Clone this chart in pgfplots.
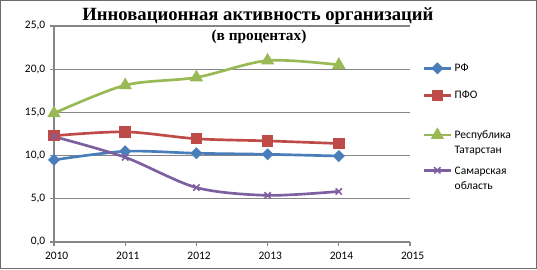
\documentclass[border=0pt]{standalone}
\usepackage{fontspec}
\setmainfont{Carlito}
\newfontfamily\titlefont{Liberation Serif}
\usepackage{pgfplots}
\pgfplotsset{compat=1.18}
\definecolor{cblue}{HTML}{4A7EBB}
\definecolor{cred}{HTML}{BE4B48}
\definecolor{cgreen}{HTML}{98B954}
\definecolor{cpurple}{HTML}{7D60A0}
\definecolor{gridc}{HTML}{868686}
\begin{document}
\begin{tikzpicture}
\useasboundingbox (0pt,0pt) rectangle (402.75pt,201.75pt);
\draw[gridc!80!black, line width=0.75pt] (0.375pt,0.375pt) rectangle (402.375pt,201.375pt);
\node[anchor=base, font=\titlefont\bfseries\fontsize{14}{16}\selectfont] at (193.5pt,186.75pt) {Инновационная активность организаций};
\node[anchor=base, font=\titlefont\bfseries\fontsize{11.5}{13}\selectfont] at (194.25pt,171.75pt) {(в процентах)};
\begin{axis}[
  at={(40.5pt,20.25pt)}, anchor=south west,
  scale only axis, width=267pt, height=162pt,
  xmin=2010, xmax=2015, ymin=0, ymax=25,
  xtick={2010,2011,2012,2013,2014,2015},
  ytick={0,5,10,15,20,25},
  axis x line=bottom, axis y line=left,
  axis line style={-, gridc, line width=0.8pt},
  tick style={gridc, line width=0.8pt},
  tick align=outside, major tick length=3pt,
  ymajorgrids, grid style={gridc, line width=0.8pt},
  ticklabel style={font=\fontsize{8.6}{10}\selectfont, text=black},
  /pgf/number format/assume math mode=true,
  x tick label style={/pgf/number format/set thousands separator={}, yshift=-1pt, xshift=2pt},
  y tick label style={/pgf/number format/.cd, fixed, fixed zerofill, precision=1, use comma},
  legend style={at={(1.035,0.84)}, anchor=north west, draw=none, fill=none,
    font=\fontsize{8.6}{11.25}\selectfont, row sep=9pt, inner sep=0pt},
  legend cell align=left,
  legend image code/.code={\draw[mark repeat=2,mark phase=2,#1] plot coordinates {(0pt,0pt)(10pt,0pt)(20pt,0pt)};},
  every axis plot/.append style={line width=2pt, smooth, tension=0.5},
]
\addplot[cblue, mark=square*, mark options={rotate=45, solid}, mark size=2.2pt] coordinates {
 (2010,9.5) (2011,10.5) (2012,10.27) (2013,10.15) (2014,9.95)};
\addlegendentry{РФ}
\addplot[cred, mark=square*, mark size=3.3pt] coordinates {
 (2010,12.3) (2011,12.75) (2012,11.95) (2013,11.7) (2014,11.4)};
\addlegendentry{ПФО}
\addplot[cgreen, mark=triangle*, mark size=3.8pt] coordinates {
 (2010,14.9) (2011,18.15) (2012,19.05) (2013,21.0) (2014,20.5)};
\addlegendentry[align=left, inner ysep=0pt]{\rule{0pt}{17.5pt}Республика\\Татарстан}
\addplot[cpurple, mark=x, mark size=3.3pt, mark options={line width=1.2pt},
  legend image post style={yshift=8.6pt}] coordinates {
 (2010,12.2) (2011,9.8) (2012,6.3) (2013,5.4) (2014,5.85)};
\addlegendentry[align=left, inner ysep=0pt]{\raisebox{0pt}[1.8pt][\depth]{Самарская}\\область}
\end{axis}
\end{tikzpicture}
\end{document}
